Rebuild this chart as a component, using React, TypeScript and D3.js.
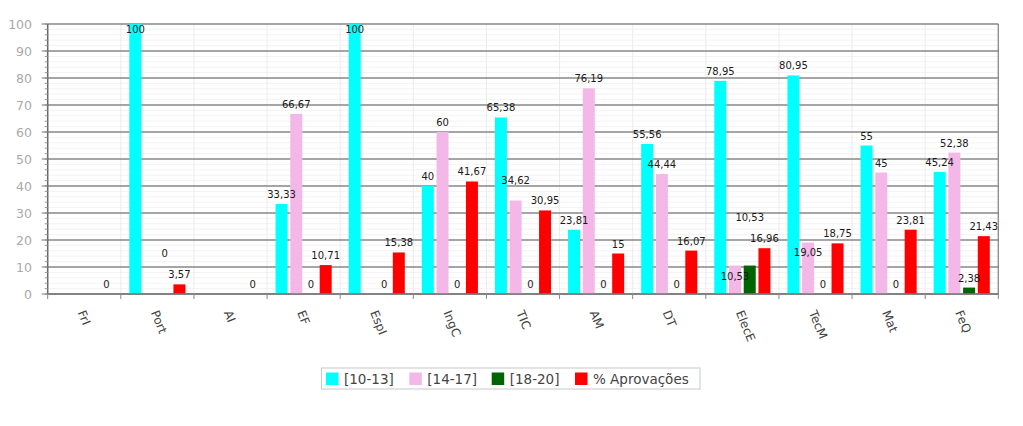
import React from "react";
import * as d3 from "d3";

const categories = ["FrI", "Port", "AI", "EF", "EspI", "IngC", "TIC", "AM", "DT", "ElecE", "TecM", "Mat", "FeQ"];
const seriesNames = ["[10-13]", "[14-17]", "[18-20]", "% Aprovações"];
const s1013: (number | null)[] = [null, 100, null, 33.33, 100, 40, 65.38, 23.81, 55.56, 78.95, 80.95, 55, 45.24];
const s1417: (number | null)[] = [null, null, null, 66.67, null, 60, 34.62, 76.19, 44.44, 10.53, 19.05, 45, 52.38];
const s1820: (number | null)[] = [null, 0, null, 0, 0, 0, 0, 0, 0, 10.53, 0, 0, 2.38];
const aprov: (number | null)[] = [0, 3.57, 0, 10.71, 15.38, 41.67, 30.95, 15, 16.07, 16.96, 18.75, 23.81, 21.43];
const yTicks = [0, 10, 20, 30, 40, 50, 60, 70, 80, 90, 100];

const seriesValues = [s1013, s1417, s1820, aprov];
const colors = ["#00FFFF", "#F4B8E8", "#006400", "#FF0000"];

// label nudges (px) for labels the original chart moved to avoid overlaps
const labelShift: Record<string, number> = {
  "2-Port": -31,
  "1-TIC": -11,
  "2-ElecE": -39,
  "1-ElecE": 20,
  "1-TecM": 19,
};

const W = 1023, H = 426;
const left = 47.7, right = 998.3, top = 24, bottom = 294;

export default function App() {
  const x0 = d3.scaleBand<string>().domain(categories).range([left, right]).paddingInner(0).paddingOuter(0);
  const x1 = d3.scaleBand<string>().domain(seriesNames).range([0, x0.bandwidth()]).paddingInner(0.184).paddingOuter(0.578);
  const y = d3.scaleLinear().domain([0, 100]).range([bottom, top]);
  const fmt = (v: number) => String(v).replace(".", ",");
  const minor = d3.range(0, 101, 2);
  const font = "'DejaVu Sans', Verdana, sans-serif";

  const bars: React.ReactNode[] = [];
  const labels: React.ReactNode[] = [];
  seriesValues.forEach((vals, si) => {
    vals.forEach((v, ci) => {
      if (v === null) return;
      const c = categories[ci];
      const bx = (x0(c) as number) + (x1(seriesNames[si]) as number);
      const bw = x1.bandwidth();
      if (v > 0) {
        bars.push(<rect key={`b${si}-${ci}`} x={bx} y={y(v)} width={bw} height={bottom - y(v)} fill={colors[si]} />);
      }
      let ly = y(v) - 9.5 + (labelShift[`${si}-${c}`] || 0);
      if (ly < top + 5) ly = top + 5;
      labels.push(
        <text key={`l${si}-${ci}`} x={bx + bw / 2} y={ly} textAnchor="middle" dominantBaseline="central"
          fontSize={10} fill="#1a1a1a" fontFamily={font}>{fmt(v)}</text>
      );
    });
  });

  const legendX = [326, 409.3, 491.7, 575];

  return (
    <svg width={W} height={H} style={{ position: "absolute", left: 0, top: 0, background: "#fff" }}>
      {/* minor grid */}
      {minor.map((m) => (
        <line key={`mg${m}`} x1={left} x2={right} y1={y(m)} y2={y(m)} stroke="#f3f3f3" strokeWidth={1} />
      ))}
      {categories.map((c) => (
        <line key={`vg${c}`} x1={x0(c)} x2={x0(c)} y1={top} y2={bottom} stroke="#ececec" strokeWidth={1} />
      ))}
      {/* major grid */}
      {yTicks.map((t) => (
        <line key={`g${t}`} x1={left} x2={right} y1={y(t)} y2={y(t)} stroke="#888" strokeWidth={1.3} />
      ))}
      <line x1={right} x2={right} y1={top} y2={bottom} stroke="#888" strokeWidth={1.3} />
      {bars}
      {/* axes */}
      <line x1={left} x2={left} y1={top} y2={bottom} stroke="#666" strokeWidth={1.5} />
      <line x1={left} x2={right} y1={bottom} y2={bottom} stroke="#777" strokeWidth={1.5} />
      {minor.map((m) => (
        <line key={`mt${m}`} x1={left - 3} x2={left} y1={y(m)} y2={y(m)} stroke="#999" strokeWidth={1} />
      ))}
      {yTicks.map((t) => (
        <g key={`yt${t}`}>
          <line x1={left - 6} x2={left} y1={y(t)} y2={y(t)} stroke="#777" strokeWidth={1} />
          <text x={32} y={y(t)} textAnchor="end" dominantBaseline="central" fontSize={12.5} fill="#aaa" fontFamily={font}>{t}</text>
        </g>
      ))}
      {[...categories.map((c) => x0(c) as number), right].map((xv, i) => (
        <line key={`xt${i}`} x1={xv} x2={xv} y1={bottom} y2={bottom + 5} stroke="#888" strokeWidth={1} />
      ))}
      {categories.map((c) => {
        const cx = (x0(c) as number) + x0.bandwidth() / 2;
        return (
          <text key={`xl${c}`} transform={`translate(${cx - 3},${bottom + 17}) rotate(68)`} textAnchor="start"
            dominantBaseline="central" fontSize={12} fill="#444" fontFamily={font}>{c}</text>
        );
      })}
      {labels}
      {/* legend */}
      <rect x={321.5} y={368} width={378.5} height={21} fill="#fff" stroke="#c8c8c8" strokeWidth={1} />
      {seriesNames.map((s, i) => (
        <g key={`lg${i}`}>
          <rect x={legendX[i]} y={372.5} width={12.5} height={12.5} fill={colors[i]} />
          <text x={legendX[i] + 18} y={379} dominantBaseline="central" fontSize={13.5} fill="#444" fontFamily={font}>{s}</text>
        </g>
      ))}
    </svg>
  );
}
